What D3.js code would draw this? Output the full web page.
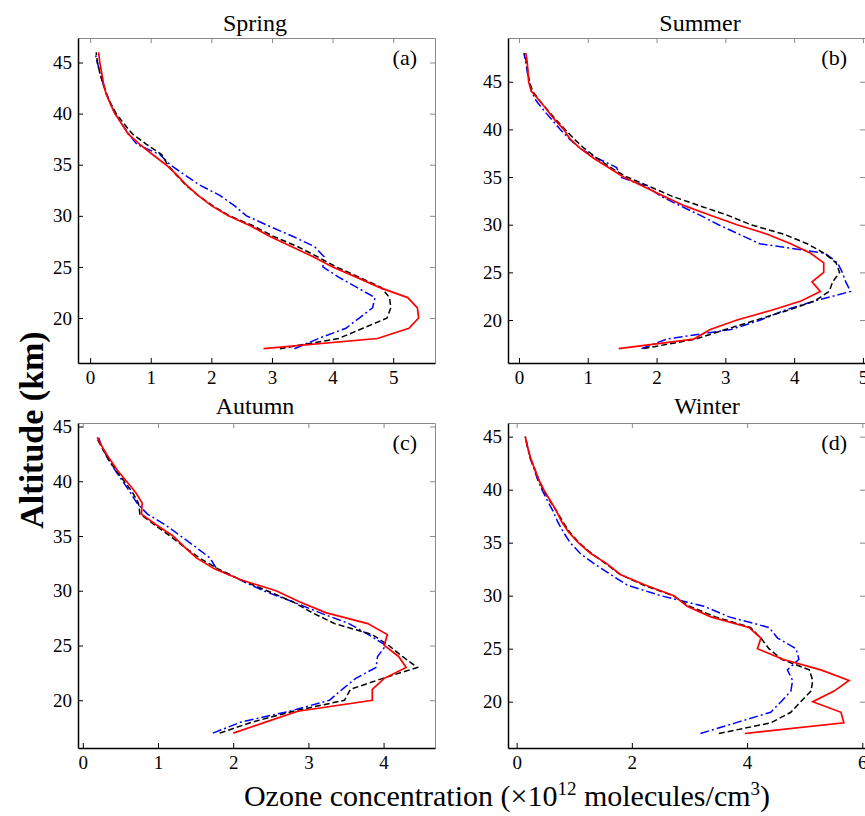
<!DOCTYPE html>
<html>
<head>
<meta charset="utf-8">
<script src="https://cdn.jsdelivr.net/npm/d3@7/dist/d3.min.js"></script>
<style>
body { margin: 0; background: #fff; }
svg { font-family: "Liberation Serif", "Times New Roman", serif; }
</style>
</head>
<body>
<div id="chart"></div>
<script>
// seasonal ozone profiles, altitude (km) vs concentration (1e12 molecules/cm3)
var yTicks = [20, 25, 30, 35, 40, 45];

var altSpring   = [17,18,19,20,21,22,23,24,25,26,27,28,29,30,31,32,33,34,35,36,37,38,39,40,41,42,43,44,45,46];
var redSpring   = [2.86,4.74,5.26,5.42,5.40,5.24,4.77,4.39,4.00,3.68,3.32,2.96,2.65,2.28,2.00,1.78,1.59,1.43,1.25,1.03,0.82,0.63,0.52,0.41,0.33,0.26,0.22,0.19,0.16,0.14];
var blackSpring = [3.13,4.10,4.50,4.90,4.96,4.94,4.80,4.44,4.06,3.75,3.42,3.02,2.70,2.30,2.02,1.78,1.58,1.42,1.28,1.18,0.93,0.70,0.56,0.43,0.34,0.26,0.21,0.16,0.12,0.10];
var blueSpring  = [3.37,3.77,4.22,4.44,4.66,4.70,4.40,4.10,3.84,3.86,3.70,3.34,2.95,2.58,2.38,2.14,1.81,1.56,1.32,1.15,0.77,0.64,0.52,0.41,0.33,0.27,0.21,0.16,0.12,0.08];

var altSummer   = [17,18,19,20,21,22,23,24,25,26,27,28,29,30,31,32,33,34,35,36,37,38,39,40,41,42,43,44,45,46,47,48];
var redSummer   = [1.45,2.54,2.78,3.17,3.66,4.10,4.38,4.26,4.43,4.43,4.24,3.95,3.61,3.17,2.78,2.40,2.10,1.81,1.52,1.30,1.08,0.89,0.74,0.65,0.52,0.41,0.30,0.18,0.14,0.13,0.12,0.10];
var blackSummer = [1.81,2.57,3.00,3.45,3.90,4.30,4.51,4.56,4.66,4.61,4.44,4.19,3.85,3.37,3.03,2.62,2.22,1.90,1.57,1.33,1.13,0.95,0.80,0.67,0.54,0.42,0.30,0.20,0.15,0.13,0.11,0.08];
var blueSummer  = [1.78,2.15,3.08,3.51,3.85,4.30,4.82,4.75,4.70,4.63,4.45,3.50,3.20,2.90,2.63,2.34,2.06,1.86,1.47,1.42,1.13,0.89,0.73,0.60,0.48,0.36,0.25,0.18,0.15,0.12,0.10,0.07];

var altAutumn   = [17,18,19,20,21,22,23,24,25,26,27,28,29,30,31,32,33,34,35,36,37,38,39,40,41,42,43,44];
var redAutumn   = [2.00,2.43,2.86,3.85,3.85,4.01,4.30,4.20,4.01,4.05,3.79,3.23,2.88,2.57,2.10,1.75,1.51,1.35,1.20,0.98,0.78,0.79,0.70,0.58,0.46,0.36,0.27,0.19];
var blackAutumn = [1.82,2.25,2.80,3.48,3.56,3.99,4.45,4.25,4.07,3.85,3.35,3.05,2.79,2.45,2.10,1.80,1.55,1.35,1.16,0.96,0.76,0.74,0.66,0.55,0.44,0.34,0.26,0.18];
var blueAutumn  = [1.73,2.10,2.75,3.28,3.45,3.63,3.90,3.92,4.03,3.80,3.54,3.15,2.79,2.40,2.09,1.78,1.69,1.50,1.30,1.10,0.86,0.72,0.63,0.53,0.43,0.34,0.26,0.21];

var altWinter   = [17,18,19,20,21,22,23,24,25,26,27,28,29,30,31,32,33,34,35,36,37,38,39,40,41,42,43,44,45];
var redWinter   = [3.96,5.68,5.63,5.14,5.51,5.77,5.28,4.62,4.18,4.24,4.03,3.37,2.96,2.73,2.23,1.80,1.57,1.28,1.07,0.90,0.78,0.69,0.58,0.47,0.38,0.31,0.24,0.19,0.15];
var blackWinter = [3.51,4.41,4.76,4.93,5.11,5.14,5.08,4.60,4.38,4.24,4.06,3.45,3.00,2.72,2.20,1.80,1.55,1.30,1.08,0.92,0.80,0.69,0.57,0.46,0.38,0.31,0.24,0.19,0.15];
var blueWinter  = [3.19,3.80,4.41,4.59,4.76,4.79,4.70,4.90,4.85,4.53,4.38,3.69,3.25,2.50,1.92,1.63,1.35,1.10,0.93,0.81,0.71,0.63,0.53,0.44,0.36,0.30,0.23,0.19,0.15];

var panels = [
  {title: "Spring", tag: "(a)", alt: altSpring, red: redSpring, black: blackSpring, blue: blueSpring,
   xTicks: [0,1,2,3,4,5], xDom: [-0.2, 5.69], yDom: [15.6, 47.4], x: 78, y: 38, titleX: 255, titleY: 31},
  {title: "Summer", tag: "(b)", alt: altSummer, red: redSummer, black: blackSummer, blue: blueSummer,
   xTicks: [0,1,2,3,4,5], xDom: [-0.16, 5.03], yDom: [15.49, 49.59], x: 508, y: 38, titleX: 700, titleY: 31},
  {title: "Autumn", tag: "(c)", alt: altAutumn, red: redAutumn, black: blackAutumn, blue: blueAutumn,
   xTicks: [0,1,2,3,4], xDom: [-0.064, 4.684], yDom: [15.64, 45.32], x: 78, y: 423, titleX: 255, titleY: 414},
  {title: "Winter", tag: "(d)", alt: altWinter, red: redWinter, black: blackWinter, blue: blueWinter,
   xTicks: [0,2,4,6], xDom: [-0.15, 6.047], yDom: [15.63, 46.29], x: 508, y: 423, titleX: 707, titleY: 414}
];
var pw = 357, ph = 325;

var svg = d3.select("#chart").append("svg")
  .attr("width", 865)
  .attr("height", 816);

panels.forEach(function(p) {
  var x = d3.scaleLinear().domain(p.xDom).range([p.x, p.x + pw]);
  var y = d3.scaleLinear().domain(p.yDom).range([p.y + ph, p.y]);
  var g = svg.append("g");

  // grey top / right frame with inner ticks
  g.append("g")
    .attr("transform", "translate(0," + p.y + ")")
    .call(d3.axisTop(x).tickValues(p.xTicks).tickSize(-5).tickSizeOuter(0).tickFormat(""))
    .attr("color", "#8a8a8a");
  g.append("g")
    .attr("transform", "translate(" + (p.x + pw) + ",0)")
    .call(d3.axisRight(y).tickValues(yTicks).tickSize(-5).tickSizeOuter(0).tickFormat(""))
    .attr("color", "#8a8a8a");

  // black bottom / left axes
  g.append("g")
    .attr("transform", "translate(0," + (p.y + ph) + ")")
    .call(d3.axisBottom(x).tickValues(p.xTicks).tickSize(-5).tickSizeOuter(0).tickPadding(8).tickFormat(d3.format("d")))
    .attr("font-family", null)
    .attr("font-size", 19)
    .call(function(a) { a.select(".domain").attr("stroke-width", 1.5); });
  g.append("g")
    .attr("transform", "translate(" + p.x + ",0)")
    .call(d3.axisLeft(y).tickValues(yTicks).tickSize(-5).tickSizeOuter(0).tickPadding(6))
    .attr("font-family", null)
    .attr("font-size", 19)
    .call(function(a) { a.select(".domain").attr("stroke-width", 1.5); });

  var line = d3.line()
    .x(function(d) { return x(d[1]); })
    .y(function(d) { return y(d[0]); });

  g.append("path")
    .datum(d3.zip(p.alt, p.blue))
    .attr("d", line)
    .attr("fill", "none")
    .attr("stroke", "#0000ff")
    .attr("stroke-width", 1.5)
    .attr("stroke-dasharray", "9,3,2,3");
  g.append("path")
    .datum(d3.zip(p.alt, p.black))
    .attr("d", line)
    .attr("fill", "none")
    .attr("stroke", "#000")
    .attr("stroke-width", 1.5)
    .attr("stroke-dasharray", "6,3");
  g.append("path")
    .datum(d3.zip(p.alt, p.red))
    .attr("d", line)
    .attr("fill", "none")
    .attr("stroke", "#ff0000")
    .attr("stroke-width", 1.7);

  g.append("text")
    .text(p.title)
    .attr("x", p.titleX)
    .attr("y", p.titleY)
    .attr("text-anchor", "middle")
    .attr("font-size", 24);
  g.append("text")
    .text(p.tag)
    .attr("x", p.x + pw - 18)
    .attr("y", p.y + 27)
    .attr("text-anchor", "end")
    .attr("font-size", 22);
});

svg.append("text")
  .text("Altitude (km)")
  .attr("transform", "translate(43,430) rotate(-90)")
  .attr("text-anchor", "middle")
  .attr("font-weight", "bold")
  .attr("font-size", 34);

var xt = svg.append("text")
  .attr("x", 507)
  .attr("y", 806)
  .attr("text-anchor", "middle")
  .attr("font-size", 30);
xt.append("tspan").text("Ozone concentration (\u00d710");
xt.append("tspan").text("12").attr("font-size", 19).attr("dy", -11);
xt.append("tspan").text(" molecules/cm").attr("dy", 11);
xt.append("tspan").text("3").attr("font-size", 19).attr("dy", -11);
xt.append("tspan").text(")").attr("dy", 11);
</script>
</body>
</html>
